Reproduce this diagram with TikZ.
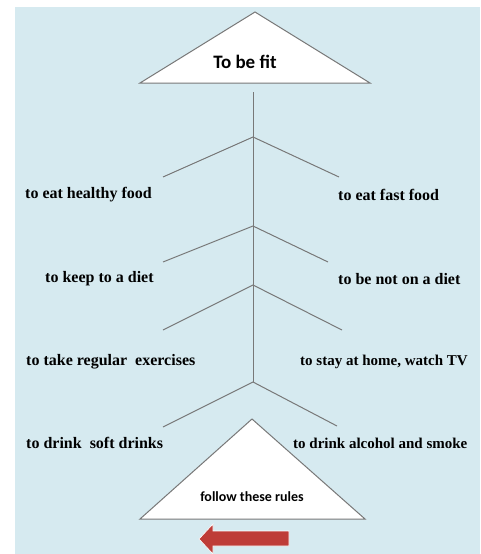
\documentclass[tikz,border=0pt]{standalone}
\usepackage{fontspec}
\setmainfont{Liberation Serif}
\newfontfamily\calib{Carlito}
\definecolor{bgblue}{RGB}{214,234,240}
\definecolor{linegray}{RGB}{120,120,120}
\definecolor{arrowred}{RGB}{190,60,55}
\tikzset{
  branch/.style={draw=linegray, line width=1pt},
  lbl/.style={font=\bfseries\fontsize{16}{18}\selectfont, inner sep=0pt, anchor=west},
  lbls/.style={lbl, font=\bfseries\fontsize{15}{17}\selectfont},
  tri/.style={draw=linegray, fill=white, line width=1pt},
}
\begin{document}
\begin{tikzpicture}[x=1pt,y=-1pt]
\useasboundingbox (0,0) rectangle (480,554);
\fill[bgblue] (15,7) rectangle (480,554);
% top triangle
\coordinate (ta) at (255,12);
\coordinate (tl) at (140,83);
\coordinate (tr) at (370,83);
\draw[tri] (ta) -- (tr) -- (tl) -- cycle;
\node[font=\calib\bfseries\fontsize{19}{21}\selectfont] (fit) at (245,62) {To be fit};
% stem
\coordinate (s0) at (253,92);
\coordinate (b1) at (253,137);
\coordinate (b2) at (253,226);
\coordinate (b3) at (253,285);
\coordinate (b4) at (253,382);
\draw[branch] (s0) -- (b4);
\coordinate (l1) at (163,177); \coordinate (r1) at (339,177);
\coordinate (l2) at (163,262); \coordinate (r2) at (328,262);
\coordinate (l3) at (163,330); \coordinate (r3) at (342,330);
\coordinate (l4) at (163,427); \coordinate (r4) at (337,426);
\draw[branch] (l1) -- (b1) -- (r1);
\draw[branch] (l2) -- (b2) -- (r2);
\draw[branch] (l3) -- (b3) -- (r3);
\draw[branch] (l4) -- (b4) -- (r4);
% labels
\node[lbl] (t1l) at (25,195) {to eat healthy food};
\node[lbl] (t1r) at (338,195) {to eat fast food};
\node[lbl] (t2l) at (45,279) {to keep to a diet};
\node[lbl] (t2r) at (338,279) {to be not on a diet};
\node[lbl] (t3l) at (26,362) {to take regular\ \ exercises};
\node[lbls] (t3r) at (300,362) {to stay at home, watch TV};
\node[lbl] (t4l) at (26,443) {to drink\ \ soft drinks};
\node[lbls] (t4r) at (293,443) {to drink alcohol and smoke};
% bottom triangle
\coordinate (ba) at (252,419);
\coordinate (bl) at (140,519);
\coordinate (br) at (365,519);
\draw[tri] (ba) -- (br) -- (bl) -- cycle;
\node[font=\calib\bfseries\fontsize{14}{16}\selectfont] (rules) at (252,497) {follow these rules};
% red arrow
\fill[arrowred, draw=white, line width=0.6pt] (289,531) -- (213,531) -- (213,524) -- (199,539) -- (213,554) -- (213,546) -- (289,546) -- cycle;
\end{tikzpicture}
\end{document}
